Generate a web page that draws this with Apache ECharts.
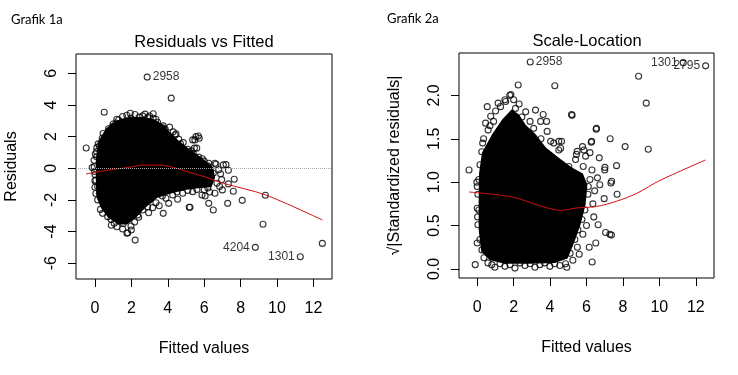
<!DOCTYPE html>
<html>
<head>
<meta charset="utf-8">
<script src="https://cdn.jsdelivr.net/npm/echarts@6/dist/echarts.min.js"></script>
<style>
  html, body { margin: 0; background: #fff; }
  #main { width: 738px; height: 375px; }
</style>
</head>
<body>
<div id="main"></div>
<script>
var chartDom = document.getElementById('main');
var myChart = echarts.init(chartDom);
var option;

// tick values
const xTicks = [0, 2, 4, 6, 8, 10, 12];
const resTicks = [-6, -4, -2, 0, 2, 4, 6];
const slTicks = [0, 0.5, 1, 1.5, 2];
const slTickLabels = ['0.0', '0.5', '1.0', '1.5', '2.0'];

// Residuals vs Fitted: outline of the solid mass of overlapping points
const resCloud = [
  [0.05, 0.52], [0.11, 1.15], [0.22, 1.75], [0.38, 2.08], [0.6, 2.5], [0.93, 2.82],
  [1.37, 3.1], [1.92, 3.24], [2.64, 3.24], [3.3, 3.08], [3.74, 2.75], [4.12, 2.28],
  [4.56, 1.79], [5.11, 1.28], [5.66, 0.84], [6.15, 0.4], [6.5, 0.05], [6.6, -0.6],
  [6.4, -1.2], [5.77, -1.25], [4.95, -1.37], [4.12, -1.62], [3.41, -1.88], [2.75, -2.52],
  [2.2, -3.2], [1.76, -3.55], [1.26, -3.55], [0.71, -3.1], [0.33, -2.52], [0.11, -1.89],
  [0.05, -1.06], [0.05, -0.11]
];
// Residuals vs Fitted: single points visible around and outside the mass
const resPoints = [
  [4.19, 4.43], [0.51, 3.54], [-0.48, 1.28], [-0.15, 0.04],
  [1.52, 3.27], [1.94, 3.48], [1.98, 3.16], [2.43, 3.23], [2.62, 3.31], [2.9, 3.2],
  [3.2, 3.44], [3.2, 3.16], [3.44, 2.91], [3.75, 2.68], [3.86, 2.47], [3.68, 2.25],
  [4.45, 2.17], [4.4, 2.1], [4.6, 1.84], [4.85, 1.62], [4.91, 1.05], [5.37, 1.79],
  [5.55, 2.0], [5.73, 1.9], [5.68, 2.04], [5.49, 1.79], [5.46, 1.27], [5.59, 1.27],
  [5.27, 0.95], [5.4, 0.95], [3.72, 2.55], [1.15, 2.85], [0.97, 2.63], [0.79, 2.11],
  [0.6, 1.79], [0.33, 1.58], [0.24, 1.41], [0.18, 1.54], [0.09, 1.05], [0.09, 0.73],
  [1.3, 3.05], [1.75, 3.35], [2.2, 3.4], [2.75, 3.42], [3.0, 3.3], [3.35, 3.1],
  [-0.05, 0.5], [-0.02, -0.2], [0.0, -0.8], [0.02, 0.9], [0.05, -1.6], [0.15, -2.0],
  [0.1, 1.3], [0.45, 2.2], [0.75, 2.5], [1.0, 2.8], [1.2, 3.1], [0.4, 1.9],
  [4.1, 2.6], [4.3, 2.3], [4.7, 1.55], [5.1, 1.2], [5.3, 1.1], [5.7, 0.7], [6.0, 0.45],
  [6.25, 0.32], [6.59, 0.32], [6.65, 0.25], [7.05, 0.21], [7.2, 0.23], [7.33, -0.13],
  [6.5, -0.32], [6.96, -0.72], [7.65, -0.7], [7.33, -0.99], [7.0, -1.37], [7.6, -1.45],
  [6.59, -1.58], [8.09, -2.03], [7.29, -2.22], [6.25, -2.22], [6.5, -2.64], [5.22, -2.47],
  [9.36, -1.71], [9.23, -3.54], [12.49, -4.75], [5.9, 0.6], [6.2, 0.15], [6.8, -0.1],
  [6.9, -0.35], [6.7, -0.95], [6.85, -1.15], [6.3, -1.5], [6.05, -1.75], [5.85, 0.2],
  [-0.04, 0.1], [0.05, -0.74], [0.15, -1.16], [0.24, -1.58], [0.38, -1.9], [0.42, -2.85],
  [0.6, -2.32], [0.7, -3.06], [0.88, -3.23], [1.06, -3.48], [1.21, -3.7], [1.52, -3.84],
  [1.8, -4.08], [2.21, -4.54], [1.76, -4.11], [1.98, -3.65], [2.18, -3.4], [2.35, -2.96],
  [2.62, -2.64], [2.95, -2.81], [2.89, -2.43], [3.17, -2.49], [3.35, -2.18], [3.53, -2.37],
  [3.75, -2.85], [4.05, -2.22], [3.9, -1.9], [4.54, -1.96], [4.27, -1.69], [4.82, -1.58],
  [5.18, -2.47], [5.37, -1.48], [5.88, -1.69], [6.0, -1.37], [1.7, -2.43], [1.34, -3.06],
  [1.55, -3.5], [2.4, -3.1], [2.0, -3.9], [0.3, -2.6], [0.0, -0.4], [0.0, -1.2], [0.9, -3.6],
  [2.6, -2.3], [3.0, -2.0], [3.7, -1.75], [4.5, -1.5], [5.1, -1.4], [5.6, -1.35], [6.2, -1.25]
];
// labelled observations: x, y, id, side of label
const resIds = [
  [2.87, 5.76, '2958', 'right'],
  [8.81, -5.0, '4204', 'left'],
  [11.28, -5.59, '1301', 'left']
];
const resSmooth = [
  [-0.49, -0.36], [0.79, -0.11], [1.88, 0.06], [2.62, 0.2], [3.53, 0.2], [4.27, 0.06],
  [5.37, -0.32], [6.1, -0.57], [7.05, -0.95], [9.38, -1.69], [12.49, -3.27]
];

// Scale-Location
const slCloud = [
  [0.1, 1.1], [0.26, 1.34], [0.81, 1.55], [1.36, 1.72], [1.9, 1.84], [2.29, 1.78],
  [2.67, 1.66], [3.22, 1.55], [3.77, 1.4], [4.48, 1.28], [5.2, 1.17], [5.8, 1.1],
  [6.05, 0.97], [5.95, 0.74], [5.67, 0.51], [5.3, 0.29], [4.96, 0.12], [4.26, 0.07],
  [2.89, 0.06], [1.52, 0.06], [0.7, 0.1], [0.22, 0.2], [0.08, 0.45], [0.08, 0.8]
];
const slPoints = [
  [2.25, 2.12], [4.26, 2.11], [8.86, 2.22], [9.28, 1.91], [9.39, 1.38], [8.12, 1.41],
  [5.21, 1.77], [6.53, 1.61], [7.3, 1.5], [7.65, 1.19], [7.34, 0.99], [7.68, 0.86],
  [7.01, 1.17], [6.97, 0.81], [6.64, 0.51], [7.05, 0.42], [7.28, 0.4], [7.37, 0.39],
  [6.51, 0.3], [6.15, 0.25], [6.31, 0.08], [5.6, 0.17], [4.85, 0.06], [6.26, 1.46],
  [-0.45, 1.14], [-0.11, 0.05],
  [0.46, 1.68], [0.74, 1.76], [1.01, 1.82], [1.28, 1.87], [1.56, 1.93], [1.79, 2.0],
  [0.55, 1.87], [1.85, 2.01], [1.52, 1.95], [1.15, 1.91], [0.6, 1.6], [0.9, 1.7],
  [2.66, 1.81], [3.2, 1.83], [3.48, 1.7], [3.62, 1.78], [3.81, 1.7], [3.84, 1.585],
  [4.03, 1.47], [4.48, 1.47], [4.58, 1.39], [4.48, 1.37], [4.63, 1.47], [5.18, 1.78],
  [5.49, 1.355], [5.86, 1.37], [5.95, 1.3], [5.4, 1.26], [5.03, 1.18], [6.55, 1.62],
  [6.28, 1.47], [6.19, 1.34], [5.78, 1.41], [6.7, 1.28], [7.0, 1.14], [6.73, 0.97],
  [7.38, 1.01], [5.45, 1.32], [5.82, 1.18], [2.3, 1.9], [2.0, 1.95], [2.45, 1.75],
  [2.9, 1.7], [3.1, 1.62], [4.2, 1.45], [0.3, 1.45], [0.7, 1.65], [2.1, 1.85], [3.5, 1.5],
  [0.15, 1.2], [0.09, 1.03], [0.04, 0.86], [0.09, 0.68], [0.04, 0.51], [0.15, 0.34],
  [0.26, 0.22], [0.37, 0.13], [0.59, 0.07], [0.25, 1.35], [0.35, 1.5], [0.0, 0.3],
  [0.0, 0.7], [-0.02, 1.0], [0.0, 0.95], [0.02, 0.6],
  [0.97, 0.02], [1.52, 0.03], [2.07, 0.01], [2.62, 0.04], [3.17, 0.02], [3.44, 0.05],
  [3.99, 0.03], [4.54, 0.04], [4.92, 0.02], [5.25, 0.1], [1.25, 0.06], [1.8, 0.05],
  [2.35, 0.07], [2.9, 0.06], [3.7, 0.07], [4.25, 0.06], [0.8, 0.05],
  [5.36, 0.34], [5.53, 0.45], [5.75, 0.57], [5.91, 0.68], [6.08, 0.86], [6.19, 1.03],
  [6.3, 1.14], [5.5, 0.25], [6.0, 0.5], [6.35, 0.75], [6.1, 0.95], [6.4, 0.6],
  [6.45, 0.9], [6.6, 1.05], [5.1, 0.18], [5.8, 0.4]
];
const slIds = [
  [2.91, 2.385, '2958', 'right'],
  [11.31, 2.377, '1301', 'left'],
  [12.54, 2.34, '2795', 'left']
];
const slSmooth = [
  [-0.45, 0.887], [1.06, 0.856], [2.16, 0.818], [3.26, 0.74], [3.99, 0.695], [4.63, 0.675],
  [5.46, 0.703], [6.55, 0.72], [7.65, 0.78], [8.75, 0.87], [10.03, 1.02], [12.54, 1.256]
];

const font = 'Liberation Sans';

function cloudSeries(points, idx) {
  return {
    type: 'custom',
    xAxisIndex: idx,
    yAxisIndex: idx,
    silent: true,
    data: points,
    encode: { x: 0, y: 1 },
    renderItem: function (params, api) {
      if (params.dataIndex !== 0) return;
      return {
        type: 'polygon',
        shape: { points: points.map(function (p) { return api.coord(p); }) },
        style: { fill: '#000' }
      };
    }
  };
}

function pointSeries(points, idx) {
  return {
    type: 'scatter',
    xAxisIndex: idx,
    yAxisIndex: idx,
    symbol: 'circle',
    symbolSize: 6,
    itemStyle: { color: 'rgba(0,0,0,0)', borderColor: '#000', borderWidth: 1.1 },
    data: points
  };
}

function idSeries(ids, idx) {
  return {
    type: 'scatter',
    xAxisIndex: idx,
    yAxisIndex: idx,
    symbol: 'circle',
    symbolSize: 6,
    itemStyle: { color: 'rgba(0,0,0,0)', borderColor: '#000', borderWidth: 1.1 },
    label: { show: true, formatter: '{b}', fontSize: 12, fontFamily: font, color: '#000', distance: 2 },
    data: ids.map(function (d) {
      return { name: d[2], value: [d[0], d[1]], label: { position: d[3] } };
    })
  };
}

function smoothSeries(points, idx) {
  return {
    type: 'line',
    xAxisIndex: idx,
    yAxisIndex: idx,
    showSymbol: false,
    smooth: 0.3,
    lineStyle: { color: '#d01010', width: 1 },
    data: points
  };
}

function xAxisFor(idx, min, max) {
  return {
    type: 'value',
    gridIndex: idx,
    min: min,
    max: max,
    name: 'Fitted values',
    nameLocation: 'middle',
    nameGap: 62,
    nameTextStyle: { fontSize: 16, fontFamily: font, color: '#000' },
    axisLine: { show: false, onZero: false },
    axisTick: { show: true, length: 8, customValues: xTicks, lineStyle: { color: '#000' } },
    axisLabel: { customValues: xTicks, margin: 22, fontSize: 16, fontFamily: font, color: '#000' },
    splitLine: { show: false }
  };
}

function yAxisFor(idx, min, max, ticks, labels, name) {
  return {
    type: 'value',
    gridIndex: idx,
    min: min,
    max: max,
    name: name,
    nameLocation: 'middle',
    nameGap: 56,
    nameTextStyle: { fontSize: 16, fontFamily: font, color: '#000' },
    axisLine: { show: false, onZero: false },
    axisTick: { show: true, length: 8, customValues: ticks, lineStyle: { color: '#000' } },
    axisLabel: {
      customValues: ticks,
      rotate: 90,
      margin: 16,
      fontSize: 16,
      fontFamily: font,
      color: '#000',
      formatter: function (v) {
        if (!labels) return String(v);
        return labels[ticks.indexOf(v)];
      }
    },
    splitLine: { show: false }
  };
}

option = {
  animation: false,
  backgroundColor: '#fff',
  grid: [
    { left: 76, top: 54, width: 256, height: 225, show: true, borderColor: '#000', borderWidth: 1, backgroundColor: 'transparent' },
    { left: 459, top: 53, width: 255, height: 225, show: true, borderColor: '#000', borderWidth: 1, backgroundColor: 'transparent' }
  ],
  xAxis: [xAxisFor(0, -1.04, 13.02), xAxisFor(1, -1.0, 13.0)],
  yAxis: [
    yAxisFor(0, -7.0, 7.22, resTicks, null, 'Residuals'),
    yAxisFor(1, -0.104, 2.488, slTicks, slTickLabels, '√|Standardized residuals|')
  ],
  graphic: [
    { type: 'text', x: 11, y: 20, style: { text: 'Grafik 1a', font: '13px Lato', fill: '#000', verticalAlign: 'middle' } },
    { type: 'text', x: 387, y: 19, style: { text: 'Grafik 2a', font: '13px Lato', fill: '#000', verticalAlign: 'middle' } },
    { type: 'text', x: 204, y: 42, style: { text: 'Residuals vs Fitted', font: '16.5px "Liberation Sans"', fill: '#000', align: 'center', verticalAlign: 'middle' } },
    { type: 'text', x: 587, y: 41, style: { text: 'Scale-Location', font: '16.5px "Liberation Sans"', fill: '#000', align: 'center', verticalAlign: 'middle' } }
  ],
  series: [
    cloudSeries(resCloud, 0),
    Object.assign(pointSeries(resPoints, 0), {
      markLine: {
        silent: true,
        symbol: 'none',
        label: { show: false },
        lineStyle: { color: '#aaa', type: 'dotted', width: 1 },
        data: [{ yAxis: 0 }]
      }
    }),
    idSeries(resIds, 0),
    smoothSeries(resSmooth, 0),
    cloudSeries(slCloud, 1),
    pointSeries(slPoints, 1),
    idSeries(slIds, 1),
    smoothSeries(slSmooth, 1)
  ]
};

option && myChart.setOption(option);
</script>
</body>
</html>
